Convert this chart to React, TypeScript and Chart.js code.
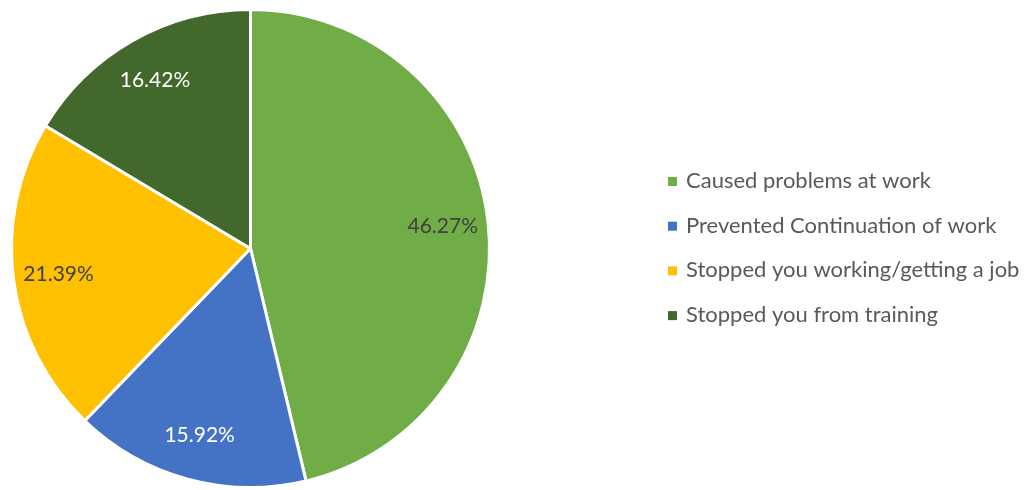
import React, { useEffect, useRef } from "react";
import { Chart, registerables } from "chart.js";

Chart.register(...registerables);

const categories = [
  "Caused problems at work",
  "Prevented Continuation of work",
  "Stopped you working/getting a job",
  "Stopped you from training",
];
const values = [46.27, 15.92, 21.39, 16.42];
const colors = ["#70AD47", "#4472C4", "#FFC000", "#43682B"];
const labelColors = ["#404040", "#FFFFFF", "#404040", "#FFFFFF"];

const FONT = "Lato, 'Open Sans', sans-serif";

const labelPlugin = {
  id: "sliceLabels",
  afterDatasetsDraw(chart: any) {
    const ctx = chart.ctx;
    const meta = chart.getDatasetMeta(0);
    ctx.save();
    ctx.font = `21px ${FONT}`;
    ctx.textAlign = "center";
    ctx.textBaseline = "middle";
    meta.data.forEach((arc: any, i: number) => {
      const p = arc.getProps(["x", "y", "startAngle", "endAngle", "outerRadius"], true);
      const mid = (p.startAngle + p.endAngle) / 2;
      const r = p.outerRadius * 0.81;
      const x = p.x + Math.cos(mid) * r;
      const y = p.y + Math.sin(mid) * r;
      ctx.fillStyle = labelColors[i];
      ctx.fillText(values[i].toFixed(2) + "%", x, y);
    });
    ctx.restore();
  },
};

const legendPlugin = {
  id: "sideLegend",
  afterDraw(chart: any) {
    const ctx = chart.ctx;
    ctx.save();
    ctx.font = `22px ${FONT}`;
    ctx.textAlign = "left";
    ctx.textBaseline = "middle";
    const x0 = 668;
    const y0 = 181;
    const step = 44.7;
    categories.forEach((c, i) => {
      const y = y0 + i * step;
      ctx.fillStyle = colors[i];
      ctx.fillRect(x0, y - 4, 9, 9);
      ctx.fillStyle = "#595959";
      ctx.fillText(c, x0 + 18, y);
    });
    ctx.restore();
  },
};

export default function App() {
  const ref = useRef<HTMLCanvasElement>(null);
  useEffect(() => {
    document.body.style.margin = "0";
    const chart = new Chart(ref.current!, {
      type: "pie",
      data: {
        labels: categories,
        datasets: [
          {
            data: values,
            backgroundColor: colors,
            borderColor: "#FFFFFF",
            borderWidth: 3,
            hoverOffset: 0,
            offset: 0,
          },
        ],
      },
      options: {
        animation: false,
        responsive: false,
        layout: { padding: { left: 10, top: 8, right: 541, bottom: 1 } },
        plugins: {
          legend: { display: false },
          tooltip: { enabled: false },
        },
      },
      plugins: [labelPlugin, legendPlugin],
    });
    return () => chart.destroy();
  }, []);
  return (
    <div style={{ width: 1032, height: 490 }}>
      <canvas ref={ref} width={1032} height={490} style={{ display: "block" }} />
    </div>
  );
}
